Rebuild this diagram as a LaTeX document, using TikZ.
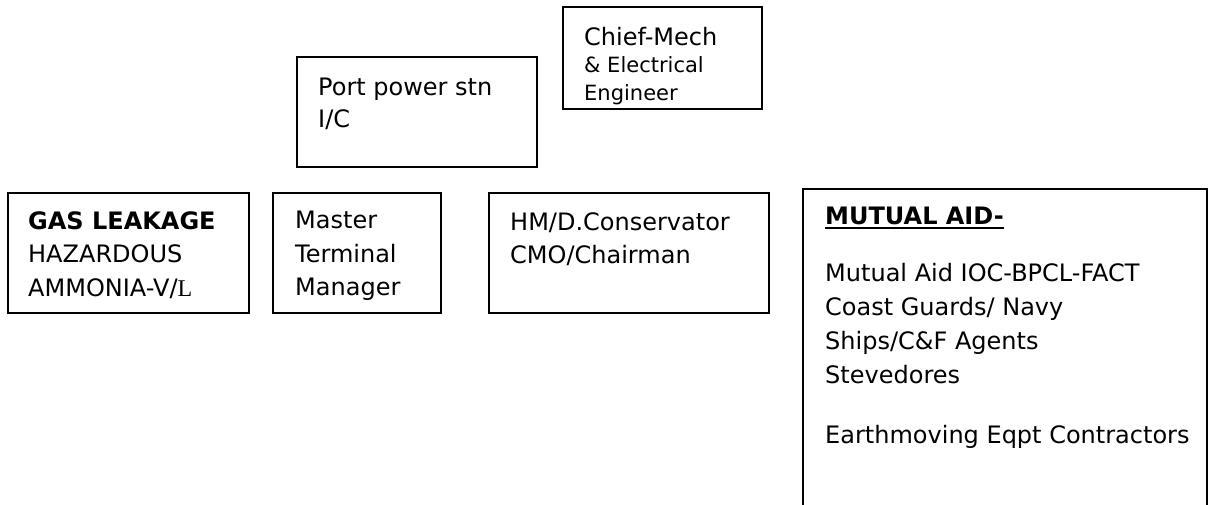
\documentclass[tikz,border=0pt]{standalone}
\usepackage{fontspec}
\setmainfont{DejaVu Sans}
\newfontfamily\serifletter{Liberation Serif}
\newcommand\thickline[1]{\setbox0\hbox{#1}\rlap{\rule[-4.5pt]{\wd0}{2.4pt}}\box0}

\begin{document}
\begin{tikzpicture}[x=1pt,y=-1pt,
	box/.style={draw,line width=1.6pt,outer sep=0pt,inner sep=0pt,anchor=north west},
	lbl/.style={anchor=north west,inner sep=0pt,align=left,font=\fontsize{24}{33.5}\selectfont}]
	\clip (0,0) rectangle (1209,504);
	% Top boxes
	\node[box,minimum width=240pt,minimum height=110pt] (port) at (297,57) {};
	\node[box,minimum width=199pt,minimum height=102pt] (chief) at (563,7) {};
	\node[lbl,font=\fontsize{21}{27.5}\selectfont] (chieftxt) at ([xshift=21pt,yshift=-20pt]chief.north west) {{\fontsize{24}{27.5}\selectfont Chief-Mech}\\\& Electrical\\Engineer};
	\node[lbl,font=\fontsize{24}{32}\selectfont] (porttxt) at ([xshift=21pt,yshift=-21pt]port.north west) {Port power stn\\I/C};
	% Bottom row
	\node[box,minimum width=241pt,minimum height=120pt] (gas) at (8,193) {};
	\node[box,minimum width=168pt,minimum height=120pt] (master) at (273,193) {};
	\node[box,minimum width=280pt,minimum height=120pt] (hm) at (489,193) {};
	\node[box,minimum width=404pt,minimum height=340pt] (mutual) at (803,189) {};
	\node[lbl] (gastxt) at ([xshift=20pt,yshift=-18pt]gas.north west) {\textbf{GAS LEAKAGE}\\HAZARDOUS\\AMMONIA-V/{\serifletter L}};
	\node[lbl] (mastertxt) at ([xshift=22pt,yshift=-18pt]master.north west) {Master\\Terminal\\Manager};
	\node[lbl,font=\fontsize{24}{33}\selectfont] (hmtxt) at ([xshift=21pt,yshift=-19pt]hm.north west) {HM/D.Conservator\\CMO/Chairman};
	\node[lbl] (mutualhead) at ([xshift=22pt,yshift=-18pt]mutual.north west) {\thickline{\textbf{MUTUAL AID-}}};
	\node[lbl,font=\fontsize{24}{34}\selectfont] (mutuallist) at ([xshift=22pt,yshift=-74pt]mutual.north west) {Mutual Aid IOC-BPCL-FACT\\Coast Guards/ Navy\\Ships/C\&F Agents\\Stevedores\\[26pt]Earthmoving Eqpt Contractors};
\end{tikzpicture}
\end{document}
